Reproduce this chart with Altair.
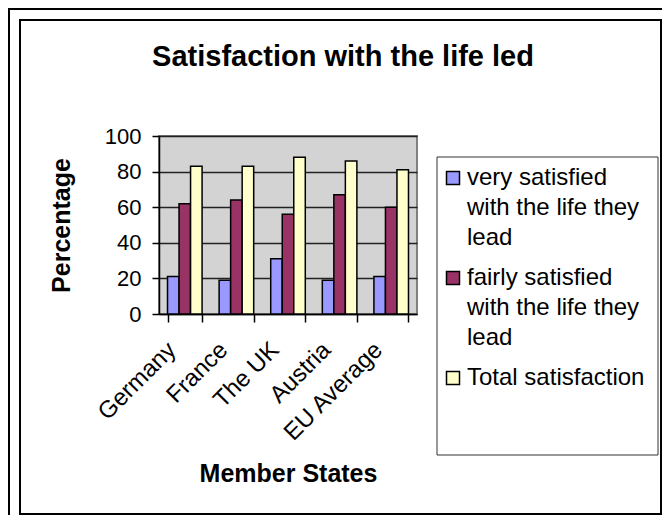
import json
import altair as alt
import pandas as pd

countries = ["Germany", "France", "The UK", "Austria", "EU Average"]
series = [
    "very satisfied with the life they lead",
    "fairly satisfied with the life they lead",
    "Total satisfaction",
]
very_satisfied = [21, 19, 31, 19, 21]
fairly_satisfied = [62, 64, 56, 67, 60]
total_satisfaction = [83, 83, 88, 86, 81]
colors = ["#9999FF", "#993366", "#FFFFCC"]
y_ticks = [0, 20, 40, 60, 80, 100]
legend_lines = [
    ["very satisfied", "with the life they", "lead"],
    ["fairly satisfied", "with the life they", "lead"],
    ["Total satisfaction"],
]

FONT = "Liberation Sans"

rows = []
for s, vals in zip(series, [very_satisfied, fairly_satisfied, total_satisfaction]):
    for c, v in zip(countries, vals):
        rows.append({"Country": c, "Series": s, "Value": v})
df = pd.DataFrame(rows)

# label expression mapping each series to its wrapped lines
expr = ""
for s, lines in zip(series, legend_lines):
    expr += f"datum.label == {json.dumps(s)} ? {json.dumps(lines)} : "
expr += "datum.label"

bars = alt.Chart(df).mark_bar(stroke="black", strokeWidth=1.5).encode(
    x=alt.X(
        "Country:N",
        sort=countries,
        scale=alt.Scale(paddingInner=0.33, paddingOuter=0.165),
        axis=alt.Axis(
            title="Member States",
            labelAngle=-45,
            labelAlign="right",
            labelBaseline="middle",
            labelFontSize=24,
            labelPadding=24,
            labelOffset=-13,
            tickBand="extent",
            tickSize=8,
            tickColor="black",
            tickWidth=1.5,
            domainColor="black",
            domainWidth=1.5,
            titleFontSize=25,
            titleFontWeight="bold",
            titlePadding=16,
            grid=False,
        ),
    ),
    xOffset=alt.XOffset("Series:N", sort=series, scale=alt.Scale(paddingInner=0, paddingOuter=0)),
    y=alt.Y(
        "Value:Q",
        scale=alt.Scale(domain=[0, 100], nice=False),
        axis=alt.Axis(
            title="Percentage",
            values=y_ticks,
            labelFontSize=22,
            labelPadding=11,
            tickSize=7,
            tickColor="black",
            tickWidth=1.5,
            domainColor="black",
            domainWidth=1.5,
            grid=True,
            gridColor="#222222",
            gridWidth=1.5,
            titleFontSize=25,
            titleFontWeight="bold",
            titlePadding=30,
        ),
    ),
    color=alt.Color(
        "Series:N",
        scale=alt.Scale(domain=series, range=colors),
        legend=alt.Legend(
            title=None,
            orient="none",
            legendX=282,
            legendY=30,
            padding=0,
            rowPadding=16,
            symbolType="square",
            symbolSize=169,
            symbolStrokeColor="black",
            symbolStrokeWidth=1.5,
            symbolOpacity=1,
            labelFontSize=24,
            labelLimit=0,
            labelOffset=2,
            labelBaseline="middle",
            labelExpr=expr,
        ),
    ),
)

one = pd.DataFrame({"k": [0]})
outer_frame = alt.Chart(one).mark_rect(fillOpacity=0, stroke="black", strokeWidth=2).encode(
    x=alt.value(-150), x2=alt.value(540), y=alt.value(-127), y2=alt.value(420)
)
inner_frame = alt.Chart(one).mark_rect(fillOpacity=0, stroke="black", strokeWidth=2).encode(
    x=alt.value(-139), x2=alt.value(502), y=alt.value(-116), y2=alt.value(378)
)
legend_box = alt.Chart(one).mark_rect(fillOpacity=0, stroke="#333333", strokeWidth=1).encode(
    x=alt.value(278), x2=alt.value(499), y=alt.value(21), y2=alt.value(319)
)

chart = (
    alt.layer(outer_frame, inner_frame, legend_box, bars)
    .properties(
        width=258,
        height=178,
        padding={"left": 151, "top": 128, "right": 245, "bottom": 201},
        autosize=alt.AutoSizeParams(type="none"),
        background="white",
        title=alt.TitleParams(
            "Satisfaction with the life led",
            fontSize=29,
            fontWeight="bold",
            font=FONT,
            anchor="middle",
            frame="group",
            dx=55,
            offset=-64,
            color="black",
        ),
    )
    .configure(font=FONT, style={"guide-label": {"lineHeight": 30}})
    .configure_axis(labelColor="black", titleColor="black", labelFont=FONT, titleFont=FONT)
    .configure_legend(labelColor="black", labelFont=FONT)
    .configure_view(fill="#D3D3D3", stroke="#808080", strokeWidth=2)
)

chart.save("out.html", embed_options={"renderer": "svg", "actions": False})
